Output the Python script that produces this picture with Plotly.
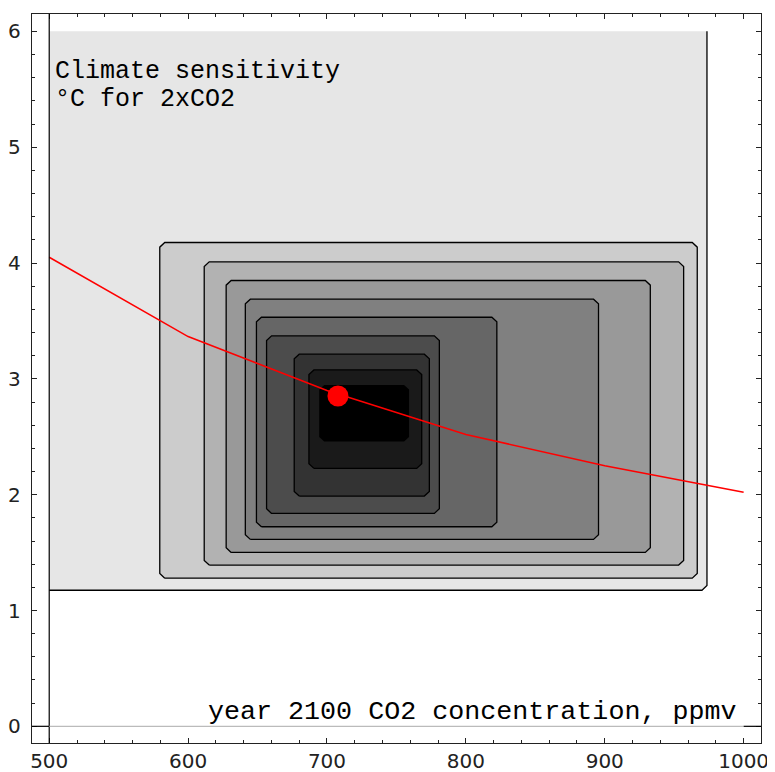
import plotly.graph_objects as go

# ---- data ----
# contour-band rectangles (x in ppmv, y in degC), lightest (outer) to darkest (inner)
band_x_left = [579.6, 611.6, 627.4, 641.2, 649.2, 656.5, 676.4, 687.0]
band_x_right = [966.6, 956.8, 932.8, 895.5, 822.3, 780.9, 773.7, 768.2]
band_y_bottom = [1.279, 1.392, 1.501, 1.614, 1.723, 1.838, 1.988, 2.227]
band_y_top = [4.177, 4.010, 3.849, 3.688, 3.532, 3.371, 3.213, 3.077]
band_gray = [0.8, 0.7, 0.6, 0.5, 0.4, 0.3, 0.2, 0.1]

# outermost (lightest) region
outer_x = [500, 973.6]
outer_y = [1.175, 6.0]
outer_gray = 0.9

# innermost (black) core
core_x = [694.4, 759.1]
core_y = [2.459, 2.947]

# red curve and best-estimate point
curve_x = [500, 600, 700, 800, 900, 1000]
curve_y = [4.05, 3.365, 2.90, 2.52, 2.25, 2.02]
best_x = [707.9]
best_y = [2.852]

x_ticks = [500, 600, 700, 800, 900, 1000]
y_ticks = [0, 1, 2, 3, 4, 5, 6]

title_lines = ["Climate sensitivity", "°C for 2xCO2"]
xlabel = "year 2100 CO2 concentration, ppmv"

X_RANGE = [487.6, 1012.5]
Y_RANGE = [-0.144, 6.15]

# chamfer size in data units (~5 px)
CX = 3.6
CY = 0.04


def gray(g):
    v = int(round(g * 255))
    return f"rgb({v},{v},{v})"


def chamfer_rect(x0, x1, y0, y1):
    xs = [x0 + CX, x1 - CX, x1, x1, x1 - CX, x0 + CX, x0, x0, x0 + CX]
    ys = [y0, y0, y0 + CY, y1 - CY, y1, y1, y1 - CY, y0 + CY, y0]
    return xs, ys


fig = go.Figure()

# outer light region (filled, no outline)
ox0, ox1 = outer_x
oy0, oy1 = outer_y
fig.add_trace(go.Scatter(
    x=[ox0, ox1, ox1, ox1 - CX, ox0, ox0],
    y=[oy1, oy1, oy0 + CY, oy0, oy0, oy1],
    fill="toself", fillcolor=gray(outer_gray), mode="none",
    hoverinfo="skip", showlegend=False))
# its right and bottom contour line
fig.add_trace(go.Scatter(
    x=[ox1, ox1, ox1 - CX, ox0],
    y=[oy1, oy0 + CY, oy0, oy0],
    mode="lines", line=dict(color="black", width=1.3),
    hoverinfo="skip", showlegend=False))

for x0, x1, y0, y1, g in zip(band_x_left, band_x_right, band_y_bottom, band_y_top, band_gray):
    xs, ys = chamfer_rect(x0, x1, y0, y1)
    fig.add_trace(go.Scatter(
        x=xs, y=ys, fill="toself", fillcolor=gray(g), mode="lines",
        line=dict(color="black", width=1.3),
        hoverinfo="skip", showlegend=False))

xs, ys = chamfer_rect(core_x[0], core_x[1], core_y[0], core_y[1])
fig.add_trace(go.Scatter(
    x=xs, y=ys, fill="toself", fillcolor="black", mode="none",
    hoverinfo="skip", showlegend=False))

fig.add_trace(go.Scatter(
    x=curve_x, y=curve_y, mode="lines", line=dict(color="red", width=1.5),
    hoverinfo="skip", showlegend=False))
fig.add_trace(go.Scatter(
    x=best_x, y=best_y, mode="markers", marker=dict(color="red", size=21, line=dict(width=0)),
    hoverinfo="skip", showlegend=False))

# axis-origin lines
fig.add_shape(type="line", x0=500, x1=500, y0=Y_RANGE[0], y1=Y_RANGE[1],
              line=dict(color="black", width=1.2), layer="above")
fig.add_shape(type="line", x0=500, x1=1000, y0=0, y1=0,
              line=dict(color="#bbbbbb", width=1.2), layer="above")
fig.add_shape(type="line", x0=X_RANGE[0], x1=500, y0=0, y1=0,
              line=dict(color="black", width=1.2), layer="above")
fig.add_shape(type="line", x0=1000, x1=X_RANGE[1], y0=0, y1=0,
              line=dict(color="black", width=1.2), layer="above")

mono = "Liberation Mono, Courier New, monospace"
# one text block: base size sets the line pitch, glyphs drawn at 25 px
title_text = "<br>".join(f"<span style='font-size:25px'>{t}</span>" for t in title_lines)
fig.add_annotation(x=503.5, y=5.535, xref="x", yref="y", text=title_text,
                   showarrow=False, xanchor="left", yanchor="middle", align="left",
                   borderpad=0, font=dict(family=mono, size=21.9, color="black"))
fig.add_annotation(x=997, y=0.121, xref="x", yref="y", text=xlabel,
                   showarrow=False, xanchor="right", yanchor="middle",
                   font=dict(family=mono, size=26.7, color="black"))

axis_common = dict(showline=True, linecolor="#222222", linewidth=1.3, mirror="allticks",
                   ticks="inside", tickcolor="#222222", tickwidth=1, showgrid=False,
                   zeroline=False,
                   tickfont=dict(family="DejaVu Sans, sans-serif", size=20, color="#222222"))

fig.update_xaxes(range=X_RANGE, tickvals=x_ticks, ticklen=5,
                 minor=dict(dtick=20, ticks="inside", ticklen=3, tickcolor="#222222", showgrid=False),
                 ticklabelstandoff=0, **axis_common)
fig.update_yaxes(range=Y_RANGE, tickvals=y_ticks, ticklen=5,
                 minor=dict(dtick=0.2, ticks="inside", ticklen=3, tickcolor="#222222", showgrid=False),
                 ticklabelstandoff=6, **axis_common)

# the page places the figure 8 px in from the top-left corner
fig.update_layout(width=767, height=764, margin=dict(l=24, r=14, t=6, b=29, autoexpand=False),
                  plot_bgcolor="white", paper_bgcolor="white", showlegend=False)

fig.write_html("out.html")
